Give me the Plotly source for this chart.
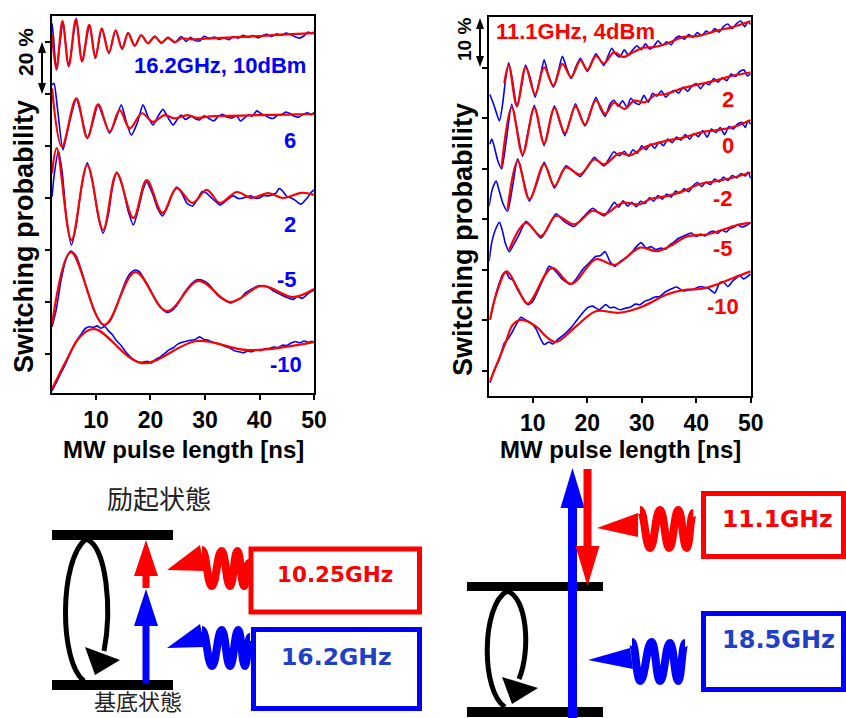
import plotly.graph_objects as go

# ------------------------------------------------------------------
# Rabi oscillations, 16.2 GHz drive (left panel).  Pulse length [ns],
# switching probability [%] with the traces stacked by an offset.
# *_DAT = measured trace, *_FIT = damped-oscillation fit.
# ------------------------------------------------------------------
L_DAT_10 = [(1.93,127.2),(2.2,122.0),(2.72,109.2),(3.3,118.0),(3.94,127.8),(4.99,110.5),(6.39,129.1),(7.43,112.4),
            (8.84,126.5),(9.87,113.7),(11.1,125.3),(12.39,115.6),(13.61,124.6),(14.77,117.2),(15.87,123.6),(17.1,118.5),
            (18.31,122.7),(19.54,119.5),(20.77,122.3),(21.98,119.5),(23.21,121.8),(24.44,119.7),(25.65,122.1),(26.6,120.2),
            (27.3,121.8),(28.2,120.6),(29.1,120.5),(29.8,122.2),(30.8,121.3),(31.7,121.9),(32.6,121.0),(33.5,121.6),
            (34.4,120.9),(35.2,122.1),(36.1,121.5),(37.0,122.6),(37.9,121.8),(38.8,122.5),(39.7,121.6),(40.6,122.4),
            (41.3,123.0),(42.2,122.1),(43.1,123.2),(44.0,122.6),(44.9,123.4),(45.8,122.8),(46.6,121.9),(47.4,121.5),
            (48.2,122.4),(48.9,123.8),(49.5,123.3),(50.0,123.9)]
L_FIT_10 = [(1.93,123.0),(2.75,109.5),(3.85,128.0),(5.0,110.8),(6.3,128.6),(7.45,112.6),(8.75,126.6),(9.9,114.0),
            (11.05,125.2),(12.35,115.8),(13.6,124.4),(14.8,117.4),(15.9,123.4),(17.1,118.6),(18.3,122.6),(19.55,119.5),
            (20.75,122.0),(22.0,119.8),(23.2,121.6),(24.45,120.0),(25.7,121.4),(27.5,121.0),(30.0,121.3),(33.0,121.6),
            (36.0,121.9),(40.0,122.3),(44.0,122.8),(47.0,123.1),(50.0,123.4)]

L_DAT_6 = [(1.93,103.5),(2.3,104.1),(2.9,95.0),(3.94,78.5),(5.0,88.0),(6.39,98.0),(7.4,91.0),(8.4,82.8),(9.4,89.0),
           (10.37,95.8),(11.5,90.0),(12.51,84.9),(13.6,90.0),(14.64,95.8),(15.6,89.0),(16.48,84.2),(17.6,89.0),(18.62,95.8),
           (19.6,91.0),(20.46,88.1),(21.4,91.5),(22.29,94.1),(23.2,91.0),(24.13,88.1),(25.0,90.5),(25.65,91.9),(26.4,90.2),
           (27.5,91.5),(28.3,90.4),(29.0,90.0),(29.8,91.6),(30.7,90.6),(31.6,89.6),(32.4,91.3),(33.2,92.2),(34.0,91.2),
           (35.0,90.8),(35.8,91.6),(36.5,89.6),(37.3,90.9),(38.0,92.0),(38.7,91.5),(39.5,93.5),(40.3,92.4),(41.0,91.8),
           (41.8,90.9),(42.5,90.6),(43.3,91.8),(44.0,92.0),(44.8,93.1),(45.6,92.5),(46.4,91.4),(47.2,91.1),(48.0,92.2),
           (48.8,92.8),(49.5,92.0),(50.0,93.0)]
L_FIT_6 = [(1.93,102.2),(3.76,79.7),(6.39,98.3),(8.4,83.2),(10.4,96.0),(12.5,85.5),(14.35,93.8),(16.18,86.8),
           (18.44,92.6),(20.46,89.3),(22.6,91.9),(24.44,90.6),(26.8,91.9),(28.6,90.8),(31.0,91.4),(35.0,91.6),
           (40.0,91.9),(45.0,92.1),(50.0,92.3)]

L_DAT_2 = [(1.93,60.5),(2.4,70.0),(3.1,78.1),(3.8,70.0),(4.6,52.0),(5.5,41.9),(6.4,50.0),(7.4,65.0),(8.4,73.5),
           (9.4,66.0),(10.4,53.0),(11.3,46.5),(12.3,54.0),(13.0,64.0),(13.8,70.0),(14.8,65.0),(15.9,55.0),(16.85,49.6),
           (17.8,56.0),(18.6,63.0),(19.3,66.2),(20.3,62.0),(21.3,56.0),(22.2,53.1),(23.1,56.5),(24.0,61.5),(24.8,64.2),
           (25.7,62.0),(26.7,58.0),(27.7,56.9),(28.6,59.5),(29.5,62.5),(30.3,61.9),(31.2,60.0),(32.0,58.6),(32.75,57.3),
           (33.6,58.5),(34.4,59.9),(35.2,60.8),(36.1,59.8),(37.0,60.0),(37.8,60.6),(38.5,60.8),(39.3,59.9),(40.0,60.0),
           (40.8,61.0),(41.5,60.8),(42.3,61.2),(43.0,61.9),(43.6,63.6),(44.2,62.8),(45.0,60.6),(45.8,60.0),(46.5,59.2),
           (47.2,58.0),(47.7,57.7),(48.3,59.0),(48.9,60.4),(49.4,62.0),(50.0,63.1)]
L_FIT_2 = [(1.93,69.5),(2.8,79.2),(5.5,43.8),(8.4,72.7),(11.3,47.7),(13.8,69.6),(16.85,52.3),(19.3,66.9),(22.2,54.2),
           (24.8,63.8),(27.7,58.1),(30.3,63.1),(32.75,58.1),(35.8,62.3),(38.55,60.0),(41.6,61.9),(44.35,60.0),
           (47.7,62.0),(50.0,61.2)]

L_DAT_M5 = [(1.93,10.5),(2.7,17.0),(3.6,28.5),(4.5,36.5),(5.4,39.6),(6.4,37.5),(7.4,31.5),(8.5,23.8),(9.5,17.5),
            (10.5,13.2),(11.5,11.0),(12.5,12.5),(13.5,16.8),(14.5,22.6),(15.4,27.8),(16.3,31.0),(17.2,32.3),(18.0,31.6),
            (19.0,28.2),(20.0,24.6),(21.0,20.4),(22.0,17.6),(23.0,16.0),(24.0,16.8),(25.0,19.2),(26.0,22.9),(27.0,25.8),
            (28.0,27.9),(28.8,28.6),(29.6,28.3),(30.5,27.2),(31.4,25.0),(32.3,22.6),(33.2,21.2),(34.0,20.2),(34.8,19.6),
            (35.6,20.6),(36.5,21.4),(37.4,23.5),(38.3,24.6),(39.2,25.7),(40.0,26.3),(40.8,26.0),(41.7,25.6),(42.6,24.2),
            (43.5,23.3),(44.4,22.3),(45.3,21.5),(46.2,21.0),(47.0,22.1),(47.8,21.4),(48.6,22.6),(49.3,23.8),(50.0,24.6)]
L_FIT_M5 = [(1.93,11.2),(5.4,39.2),(11.5,11.2),(17.2,31.5),(23.0,16.5),(28.8,28.1),(34.6,20.0),(40.4,26.2),
            (46.2,21.9),(50.0,25.0)]

L_DAT_M10 = [(1.93,-14.2),(2.6,-11.5),(3.4,-8.0),(4.2,-4.8),(5.0,-1.0),(5.8,2.6),(6.6,5.6),(7.4,8.0),(8.1,9.9),
             (8.8,10.5),(9.5,10.2),(10.2,10.8),(10.9,9.9),(11.6,10.6),(12.3,8.9),(13.0,7.4),(13.8,5.0),(14.6,3.3),
             (15.4,1.0),(16.2,-0.9),(17.0,-2.3),(17.8,-3.1),(18.6,-3.2),(19.4,-2.8),(20.2,-3.4),(21.0,-2.0),(21.8,-1.1),
             (22.6,0.2),(23.4,1.6),(24.2,2.4),(25.0,3.8),(25.8,4.5),(26.6,4.9),(27.4,5.3),(28.2,5.6),(29.0,6.6),
             (29.8,5.6),(30.6,5.3),(31.4,4.6),(32.2,4.0),(33.0,3.6),(33.8,2.8),(34.6,2.3),(35.4,1.2),(36.2,0.9),
             (37.0,0.5),(37.8,1.1),(38.6,0.9),(39.4,1.6),(40.2,1.3),(41.0,2.0),(41.8,2.1),(42.6,2.7),(43.4,2.5),
             (44.2,3.4),(45.0,3.3),(45.8,4.2),(46.6,4.8),(47.4,4.3),(48.2,5.0),(49.0,4.5),(49.6,4.9),(50.0,4.5)]
L_FIT_M10 = [(1.93,-13.5),(4.6,-2.3),(7.1,6.7),(9.8,9.6),(18.4,-3.5),(28.5,5.0),(37.9,1.5),(50.0,4.6)]

# ------------------------------------------------------------------
# Rabi oscillations, 11.1 GHz drive (right panel), same layout.
# ------------------------------------------------------------------
R_DAT_4 = [(2.1,54.8),(2.6,53.5),(3.2,51.6),(3.9,49.5),(4.5,53.0),(5.0,57.5),(5.6,61.0),(6.3,57.5),(7.1,52.3),
           (7.9,56.0),(8.7,60.6),(9.6,57.8),(10.45,54.2),(11.3,57.8),(12.1,61.6),(12.9,58.5),(13.8,56.2),(14.6,58.9),
           (15.45,62.3),(16.3,59.8),(17.05,57.9),(17.9,60.2),(18.75,61.9),(19.4,60.6),(20.05,59.3),(20.8,61.1),
           (21.6,62.8),(22.3,61.7),(23.05,60.5),(23.8,62.3),(24.5,63.9),(25.2,62.8),(26.0,62.2),(26.8,63.6),(27.5,62.6),
           (28.3,63.5),(29.1,64.4),(29.9,63.6),(30.7,64.8),(31.5,63.7),(32.3,64.4),(33.0,65.4),(33.8,64.5),(34.6,65.2),
           (35.4,64.6),(36.2,65.9),(37.0,66.3),(37.8,65.7),(38.6,66.6),(39.4,66.1),(40.2,67.0),(41.0,66.4),(41.8,67.3),
           (42.6,66.9),(43.4,67.8),(44.2,67.1),(45.0,68.2),(45.8,68.7),(46.6,67.8),(47.4,68.8),(48.2,69.3),(48.9,68.2),
           (49.5,69.1),(50.0,68.6)]
R_FIT_4 = [(4.8,57.0),(5.6,60.5),(7.1,52.5),(8.7,60.1),(10.45,54.8),(12.1,60.1),(13.8,56.5),(15.45,60.8),(17.05,58.2),
           (18.75,61.5),(20.05,59.6),(21.6,62.4),(23.05,60.9),(24.9,63.1),(26.6,62.2),(28.4,63.1),(30.2,64.0),
           (32.1,64.1),(34.6,64.8),(37.5,66.1),(40.6,66.4),(43.8,67.4),(46.7,68.1),(50.0,69.3)]

R_DAT_2 = [(2.1,44.9),(2.5,45.9),(3.0,44.2),(3.6,41.6),(4.3,40.0),(5.2,46.0),(6.15,52.8),(7.2,47.5),(8.15,42.5),
           (9.2,47.6),(10.3,52.6),(11.2,48.5),(12.1,44.6),(13.0,48.6),(14.0,52.5),(14.9,49.5),(15.9,46.6),(16.9,49.8),
           (17.85,52.9),(18.7,50.5),(19.6,48.5),(20.6,51.4),(21.6,54.2),(22.4,52.0),(23.3,50.4),(24.1,52.7),(24.9,53.6),
           (25.7,52.4),(26.5,53.5),(27.3,52.2),(28.0,54.0),(28.8,53.1),(29.6,52.8),(30.4,54.6),(31.2,53.2),(32.0,55.0),
           (32.8,54.4),(33.6,55.5),(34.4,54.2),(35.2,55.1),(36.0,55.6),(36.8,55.0),(37.6,56.2),(38.4,55.4),(39.2,56.4),
           (40.0,56.9),(40.8,55.9),(41.6,57.0),(42.4,56.7),(43.2,57.9),(44.0,57.2),(44.8,58.1),(45.6,57.5),(46.4,58.8),
           (47.2,58.3),(48.0,59.3),(48.8,59.6),(49.4,58.4),(50.0,58.9)]
R_FIT_2 = [(4.3,40.3),(6.15,52.2),(8.15,42.9),(10.3,52.1),(12.1,45.1),(14.0,52.1),(15.9,47.1),(17.85,52.4),(19.6,48.8),
           (21.6,53.6),(23.3,50.9),(24.9,53.1),(26.9,51.9),(28.6,53.5),(30.6,53.2),(32.4,54.6),(34.3,54.8),(37.6,56.0),
           (40.7,56.8),(43.8,57.6),(46.8,58.5),(50.0,59.1)]

R_DAT_0 = [(2.0,32.6),(2.6,36.0),(3.3,37.6),(3.9,35.5),(4.6,33.0),(5.4,31.6),(6.3,36.5),(7.25,42.0),(8.3,37.8),
           (9.4,33.6),(10.7,37.0),(12.1,41.3),(13.0,38.9),(14.0,36.2),(15.0,38.4),(16.1,40.6),(17.4,39.6),(18.7,38.5),
           (20.0,40.3),(21.3,42.3),(22.2,41.4),(23.1,40.6),(24.0,42.0),(24.9,43.4),(25.9,42.6),(26.8,43.5),(27.6,42.5),
           (28.4,43.8),(29.2,43.1),(30.0,44.6),(30.8,43.8),(31.6,44.9),(32.4,44.1),(33.2,45.3),(34.0,44.6),(34.8,45.9),
           (35.6,45.2),(36.4,46.3),(37.2,45.7),(38.0,46.8),(38.8,45.9),(39.6,47.0),(40.4,46.4),(41.2,47.6),(42.0,46.3),
           (42.8,47.9),(43.6,47.2),(44.4,48.2),(45.2,46.8),(46.0,48.4),(46.8,47.9),(47.6,48.9),(48.4,49.2),(49.0,48.2),
           (49.5,49.6),(50.0,48.8)]
R_FIT_0 = [(5.4,32.0),(7.25,41.6),(9.4,34.0),(12.1,40.9),(14.0,36.6),(16.1,40.3),(18.7,38.9),(21.3,41.9),(23.1,40.9),
           (25.9,43.1),(27.9,42.7),(30.3,44.2),(34.6,45.6),(37.6,46.2),(40.7,47.2),(43.8,47.7),(46.8,48.3),(50.0,49.7)]

R_DAT_M2 = [(2.0,21.7),(2.5,25.5),(3.1,27.8),(3.9,29.4),(4.5,27.5),(5.0,25.2),(5.7,23.6),(6.5,25.0),(7.6,27.2),
            (8.77,29.6),(10.1,28.1),(11.52,26.3),(12.9,28.6),(14.27,31.1),(15.9,29.5),(17.63,28.6),(19.3,30.5),
            (21.0,32.2),(22.0,31.4),(23.14,30.7),(24.2,32.2),(25.0,33.4),(25.8,32.4),(26.6,33.7),(27.4,32.6),(28.2,33.4),
            (29.0,32.5),(29.8,33.6),(30.6,33.1),(31.4,34.3),(32.2,33.6),(33.0,34.7),(33.8,34.0),(34.6,35.0),(35.4,34.4),
            (36.2,35.6),(37.0,35.2),(37.8,36.1),(38.6,35.5),(39.4,36.6),(40.2,37.3),(41.0,36.5),(41.8,37.4),(42.6,36.9),
            (43.4,38.0),(44.2,37.4),(45.0,38.4),(45.8,37.7),(46.6,38.7),(47.4,38.2),(48.2,39.1),(49.0,38.6),(49.5,39.4),
            (50.0,38.1)]
R_FIT_M2 = [(5.7,24.0),(8.77,29.3),(11.52,26.7),(14.27,30.7),(17.63,29.0),(21.0,31.7),(23.14,31.0),(25.4,32.6),
            (26.6,33.3),(29.7,33.0),(31.5,34.0),(34.6,34.6),(37.6,35.6),(40.7,37.0),(43.8,37.6),(46.8,38.3),(50.0,39.3)]

R_DAT_M5 = [(2.16,10.1),(2.77,13.1),(3.58,16.4),(4.5,19.1),(5.1,19.6),(5.7,18.4),(6.4,17.9),(7.25,16.0),(8.2,14.4),
            (9.1,13.1),(10.0,13.7),(11.2,16.4),(12.4,19.4),(13.0,20.7),(13.9,20.1),(15.2,18.4),(16.1,17.6),(17.0,17.1),
            (17.9,18.1),(19.2,20.1),(20.4,21.4),(21.6,22.7),(22.4,22.8),(23.3,23.6),(24.2,21.6),(25.1,20.7),(26.0,21.6),
            (27.0,22.3),(27.9,23.1),(29.1,24.7),(29.9,25.4),(30.8,24.3),(31.7,24.6),(32.6,24.0),(33.5,24.3),(34.4,24.1),
            (35.2,25.0),(35.8,25.4),(36.7,26.2),(37.5,26.6),(38.3,27.0),(39.1,27.3),(40.0,26.6),(40.8,27.1),(41.6,26.7),
            (42.4,27.4),(43.1,27.7),(43.9,27.2),(44.7,27.9),(45.5,27.5),(46.2,28.2),(46.8,28.4),(47.6,28.9),(48.4,28.5),
            (49.2,28.8),(50.0,29.4)]
R_FIT_M5 = [(2.16,10.1),(3.3,15.1),(5.23,19.7),(7.25,16.3),(9.08,13.3),(13.54,20.4),(17.03,17.2),(21.6,22.1),
            (25.1,21.0),(29.7,24.4),(32.75,23.7),(35.2,24.7),(38.3,26.6),(41.9,27.0),(45.0,28.0),(48.0,29.0),(50.0,29.3)]

R_DAT_M10 = [(2.16,-2.4),(2.95,0.2),(3.87,2.2),(4.8,5.5),(5.4,6.2),(6.0,7.2),(6.94,9.1),(7.85,10.6),(8.8,10.0),
             (9.7,9.5),(10.6,8.3),(11.5,6.2),(12.1,5.2),(13.0,5.7),(13.7,5.3),(14.6,6.2),(15.8,7.2),(17.0,8.5),
             (17.95,9.8),(19.2,11.5),(20.1,12.5),(21.0,12.8),(22.2,12.1),(23.4,13.1),(24.2,12.5),(24.9,12.6),(26.0,12.1),
             (27.0,12.4),(27.9,12.6),(28.8,13.2),(29.7,13.1),(30.6,13.8),(31.5,14.1),(32.4,14.6),(33.3,14.7),(34.3,15.6),
             (35.2,16.1),(36.4,16.6),(37.6,15.8),(38.5,16.0),(39.5,16.1),(40.4,16.6),(41.3,16.6),(42.3,16.3),(43.4,15.4),
             (44.3,17.4),(45.0,17.6),(45.8,16.7),(46.8,17.9),(47.4,18.4),(48.0,18.9),(48.7,18.2),(49.3,18.6),(50.0,19.2)]
R_FIT_M10 = [(2.16,-2.1),(5.1,5.8),(6.33,9.1),(7.85,10.1),(10.6,8.8),(12.44,6.8),(14.28,5.7),(17.95,8.8),(21.6,11.8),
             (25.9,11.5),(30.3,12.8),(34.6,15.1),(38.3,16.1),(40.7,16.2),(43.8,17.1),(46.8,18.4),(50.0,19.7)]

LEFT_CURVES = [(L_DAT_10, L_FIT_10), (L_DAT_6, L_FIT_6), (L_DAT_2, L_FIT_2), (L_DAT_M5, L_FIT_M5), (L_DAT_M10, L_FIT_M10)]
RIGHT_CURVES = [(R_DAT_4, R_FIT_4), (R_DAT_2, R_FIT_2), (R_DAT_0, R_FIT_0), (R_DAT_M2, R_FIT_M2),
                (R_DAT_M5, R_FIT_M5), (R_DAT_M10, R_FIT_M10)]

X_TICKS = [10, 20, 30, 40, 50]
LEFT_Y_TICKS = [0, 20, 40, 60, 80, 100, 120]
RIGHT_Y_TICKS = [0, 10, 20, 30, 40, 50, 60]

# power labels: (text, t [ns], level [%])
LEFT_POWER_LABELS = [("16.2GHz, 10dBm", 32.7, 111.0), ("6", 45.6, 82.3), ("2", 45.6, 50.0),
                     ("-5", 45.1, 28.5), ("-10", 44.9, -4.2)]
RIGHT_POWER_LABELS = [("11.1GHz, 4dBm", 17.8, 67.3), ("2", 45.8, 53.8), ("0", 45.8, 44.7),
                      ("-2", 45.0, 34.2), ("-5", 45.0, 24.3), ("-10", 45.0, 12.7)]

BLUE = "#0000ff"
RED = "#ff0000"
DIAG_BLUE = "#2040c8"
SANS = "Liberation Sans, Arial, sans-serif"
VERDANA = "DejaVu Sans, Verdana, sans-serif"
CJK = "Noto Sans CJK JP, sans-serif"

fig = go.Figure()


def add_curves(curves, xa, ya):
    for dat, fit in curves:
        t, p = zip(*dat)
        fig.add_trace(go.Scatter(x=t, y=p, mode="lines", xaxis=xa, yaxis=ya, hoverinfo="skip",
                                 line=dict(color=BLUE, width=1.6, shape="spline", smoothing=0.6)))
        t, p = zip(*fit)
        fig.add_trace(go.Scatter(x=t, y=p, mode="lines", xaxis=xa, yaxis=ya, hoverinfo="skip",
                                 line=dict(color=RED, width=2.2, shape="spline", smoothing=1.0)))


add_curves(LEFT_CURVES, "x", "y")
add_curves(RIGHT_CURVES, "x2", "y2")
# empty trace that brings the full-page drawing axes (pixel units) to life
fig.add_trace(go.Scatter(x=[0], y=[0], mode="markers", marker=dict(opacity=0), xaxis="x3", yaxis="y3",
                         hoverinfo="skip"))

W, H = 846, 718
frame = dict(showline=True, linewidth=2, linecolor="black", mirror=True, ticks="outside", ticklen=5,
             tickwidth=2, tickcolor="black", showgrid=False, zeroline=False, fixedrange=True, automargin=False)
tick_font = dict(family=SANS, size=23, color="black", weight="bold")
hidden = dict(visible=False, fixedrange=True, automargin=False, showgrid=False, zeroline=False)

fig.update_layout(
    template="none",
    width=W, height=H, autosize=False, margin=dict(l=0, r=0, t=0, b=0, pad=0), showlegend=False,
    paper_bgcolor="white", plot_bgcolor="rgba(0,0,0,0)",
    xaxis=dict(domain=[52 / W, 314 / W], range=[1.93, 50], tickvals=X_TICKS, tickfont=tick_font, anchor="y", **frame),
    yaxis=dict(domain=[1 - 393 / H, 1 - 16 / H], range=[-15, 130], tickvals=LEFT_Y_TICKS, showticklabels=False,
               anchor="x", **frame),
    xaxis2=dict(domain=[489.3 / W, 750.7 / W], range=[2.04, 50], tickvals=X_TICKS, tickfont=tick_font,
                anchor="y2", **frame),
    yaxis2=dict(domain=[1 - 396 / H, 1 - 17 / H], range=[-5, 70.1], tickvals=RIGHT_Y_TICKS, showticklabels=False,
                anchor="x2", **frame),
    xaxis3=dict(domain=[0, 1], range=[0, W], anchor="y3", **hidden),
    yaxis3=dict(domain=[0, 1], range=[H, 0], anchor="x3", **hidden),
)

ann = []
for text, t, p in LEFT_POWER_LABELS:
    ann.append(dict(x=t, y=p, xref="x", yref="y", text=text, showarrow=False,
                    font=dict(family=SANS, size=22, color=BLUE, weight="bold")))
for text, t, p in RIGHT_POWER_LABELS:
    ann.append(dict(x=t, y=p, xref="x2", yref="y2", text=text, showarrow=False,
                    font=dict(family=SANS, size=22, color=RED, weight="bold")))


def page_text(x, y, text, size, color="black", family=SANS, weight="bold", angle=0):
    ann.append(dict(x=x, y=y, xref="x3", yref="y3", text=text, showarrow=False, textangle=angle,
                    xanchor="center", yanchor="middle",
                    font=dict(family=family, size=size, color=color, weight=weight)))


# axis titles and scale bars
page_text(183, 449, "MW pulse length [ns]", 24)
page_text(620, 449, "MW pulse length [ns]", 24)
page_text(24, 237, "Switching probability", 27, angle=-90)
page_text(463, 240, "Switching probability", 27, angle=-90)
page_text(25, 52, "20 %", 21, angle=-90)
page_text(464, 40, "10 %", 19, angle=-90)

# energy-level diagram labels
page_text(159, 497, "励起状態", 26, color="#222222", family=CJK, weight="normal")
page_text(138, 700, "基底状態", 22, color="#222222", family=CJK, weight="normal")
page_text(335, 574, "10.25GHz", 21.5, color=RED, family=VERDANA)
page_text(336, 657, "16.2GHz", 23.5, color=DIAG_BLUE, family=VERDANA)
page_text(777, 519, "11.1GHz", 23.5, color=RED, family=VERDANA)
page_text(778, 640, "18.5GHz", 24, color=DIAG_BLUE, family=VERDANA)

fig.update_layout(annotations=ann)

# ---------------- drawing primitives in page pixels ----------------
shapes = []


def polygon(pts, color):
    d = "M " + " L ".join(f"{x},{y}" for x, y in pts) + " Z"
    shapes.append(dict(type="path", path=d, xref="x3", yref="y3", fillcolor=color,
                       line=dict(width=0), layer="above"))


def stroke(d, color, width):
    shapes.append(dict(type="path", path=d, xref="x3", yref="y3", fillcolor="rgba(0,0,0,0)",
                       line=dict(color=color, width=width), layer="above"))


def box(x0, y0, x1, y1, color, width=5):
    shapes.append(dict(type="rect", x0=x0, y0=y0, x1=x1, y1=y1, xref="x3", yref="y3",
                       line=dict(color=color, width=width), fillcolor="rgba(0,0,0,0)", layer="above"))


def bar(x0, x1, y0, y1):
    polygon([(x0, y0), (x1, y0), (x1, y1), (x0, y1)], "black")


def straight_arrow(cx, y_tail, y_base, y_tip, half_shaft, half_head, color):
    polygon([(cx - half_shaft, y_tail), (cx - half_shaft, y_base), (cx - half_head, y_base), (cx, y_tip),
             (cx + half_head, y_base), (cx + half_shaft, y_base), (cx + half_shaft, y_tail)], color)


def coil(pts, color, width=8):
    d = f"M {pts[0][0]},{pts[0][1]}"
    for (xa, ya), (xb, yb) in zip(pts, pts[1:]):
        dx = xb - xa
        d += f" C {xa + 0.45 * dx},{ya} {xb - 0.45 * dx},{yb} {xb},{yb}"
    stroke(d, color, width)


def double_arrow(x, y_top, y_bot):
    stroke(f"M {x},{y_top + 8} L {x},{y_bot - 8}", "black", 2)
    polygon([(x, y_top), (x - 4, y_top + 11), (x + 4, y_top + 11)], "black")
    polygon([(x, y_bot), (x - 4, y_bot - 11), (x + 4, y_bot - 11)], "black")


double_arrow(42, 42, 94)
double_arrow(480, 18, 67)

# left diagram: two-photon ladder
bar(52, 173, 530, 540)
bar(52, 173, 680, 690)
stroke("M 84,681 C 59,662 59,560 86,539 C 107,546 112,610 104,651", "black", 5)
polygon([(85, 647), (120, 660), (95, 675)], "black")
straight_arrow(146, 683, 626, 589, 3.5, 12, BLUE)
straight_arrow(146, 588, 576, 540, 3.5, 12, RED)
polygon([(167, 570), (200, 545), (205, 571)], RED)
coil([(202, 550), (211.7, 586), (221.7, 551), (230, 586), (237.5, 551), (244, 586), (249, 563)], RED)
polygon([(167, 648), (200, 624), (205, 647)], BLUE)
coil([(202, 630), (212, 666), (221.7, 630), (230, 666), (238.3, 630), (245, 666), (250, 637)], BLUE)
box(251, 549, 419.5, 612, RED)
box(253.5, 629.5, 419.5, 708.5, BLUE)

# right diagram: up by 18.5 GHz, down by 11.1 GHz
bar(467, 603, 582, 591)
bar(467, 603, 707, 717)
stroke("M 505,707 C 481,692 481,606 507,591 C 527,597 531,650 519,679", "black", 5)
polygon([(502, 677), (538, 688), (512, 704)], "black")
straight_arrow(572.5, 720, 508, 468, 4.5, 12, BLUE)
straight_arrow(587.5, 469, 546, 586, 4, 12, RED)
polygon([(597, 528), (638, 513), (638, 537)], RED)
coil([(640, 510), (650, 548), (660, 510), (669.3, 548), (678.3, 510), (686.7, 548), (693.3, 513)], RED)
polygon([(588, 660), (630, 648), (633, 669)], BLUE)
coil([(632, 642), (640, 681), (651.7, 642), (660, 681), (670, 643), (678.3, 681), (685, 643)], BLUE)
box(703.5, 493.5, 843.5, 556.5, RED)
box(703.5, 613.5, 843.5, 689.5, BLUE)

fig.update_layout(shapes=shapes)

fig.write_html("out.html", config={"displayModeBar": False})
